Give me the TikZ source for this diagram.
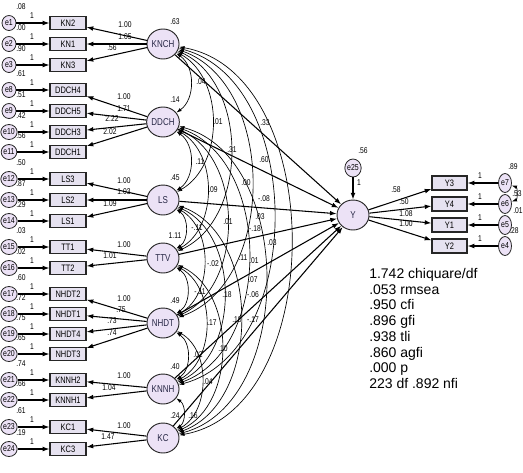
\documentclass[tikz,border=0pt]{standalone}
\usepackage{fontspec}
\setmainfont{Liberation Sans}
\newfontfamily\narrowsf[FakeStretch=0.8]{Liberation Sans}
\usetikzlibrary{arrows.meta,shapes.geometric}
\definecolor{boxfill}{RGB}{230,226,240}
\definecolor{latfill}{RGB}{236,226,246}
\definecolor{latink}{RGB}{40,40,70}

\begin{document}
\begin{tikzpicture}[x=0.75pt,y=-0.75pt,
obs/.style={draw=black!85,line width=0.9pt,fill=boxfill,minimum width=27pt,minimum height=9.75pt,inner sep=0pt,font=\narrowsf\fontsize{7}{8}\selectfont},
lat/.style={ellipse,draw=black!85,line width=0.7pt,fill=latfill,minimum width=24pt,minimum height=22.5pt,inner sep=0pt,font=\narrowsf\fontsize{7.5}{8}\selectfont,text=latink},
err/.style={ellipse,draw=black!85,line width=0.6pt,fill=latfill,minimum width=10.5pt,minimum height=11.25pt,inner sep=0pt,font=\narrowsf\fontsize{6.5}{7}\selectfont},
arr/.style={-{Latex[length=5pt,width=3.6pt]},line width=0.8pt},
cov/.style={{Latex[length=4pt,width=2.6pt]}-{Latex[length=4pt,width=2.6pt]},line width=0.5pt},
lbl/.style={inner sep=0pt,font=\narrowsf\fontsize{6.3}{7}\selectfont}
]
\useasboundingbox (0,0) rectangle (523,472);

% latent factors
\foreach \lv/\y/\v in {KNCH/44/.63,DDCH/122/.14,LS/200/.45,TTV/258/1.11,NHDT/323/.49,KNNH/389/.40,KC/438/.24}{
  \node[lat] (\lv) at (163,\y) {\lv};
  \node[lbl] (v\lv) at (175,\y-22) {\v};
}

% indicators with their errors
\foreach \b/\y/\e/\v in {KN2/23/e1/.08,KN1/44/e2/.00,KN3/65/e3/.90,DDCH4/90/e8/.61,DDCH5/111/e9/.51,DDCH3/132/e10/.42,DDCH1/152/e11/.56,LS3/179/e12/.50,LS2/200/e13/.87,LS1/221/e14/.29,TT1/247/e15/.03,TT2/268/e16/.02,NHDT2/294/e17/.60,NHDT1/314/e18/.72,NHDT4/334/e19/.75,NHDT3/354/e20/.65,KNNH2/380/e21/.74,KNNH1/400/e22/.66,KC1/427/e23/.61,KC3/449/e24/.19}{
  \node[obs] (\b) at (68,\y) {\b};
  \node[err] (\e) at (9,\y) {\e};
  \draw[arr] (\e) -- (\b);
  \node[lbl] (w\e) at (32,\y-7) {1};
  \node[lbl] (v\e) at (21,\y-16) {\v};
}

% loadings
\foreach \lv/\b/\lx/\ly/\t in {KNCH/KN2/125/25/1.00,KNCH/KN1/125/37/1.05,KNCH/KN3/112/48/.56,
  DDCH/DDCH4/124/97/1.00,DDCH/DDCH5/124/109/1.71,DDCH/DDCH3/112/119/2.22,DDCH/DDCH1/110/132/2.02,
  LS/LS3/124/181/1.00,LS/LS2/124/192/1.03,LS/LS1/110/204/1.09,
  TTV/TT1/124/245/1.00,TTV/TT2/110/256/1.01,
  NHDT/NHDT2/124/299/1.00,NHDT/NHDT1/121/310/.75,NHDT/NHDT4/112/321/.73,NHDT/NHDT3/112/333/.74,
  KNNH/KNNH2/124/376/1.00,KNNH/KNNH1/109/388/1.04,
  KC/KC1/124/426/1.00,KC/KC3/108/437/1.47}{
  \draw[arr] (\lv) -- (\b);
  \node[lbl] at (\lx,\ly) {\t};
}

% outcome
\node[lat] (Y) at (353,215) {Y};
\node[err,minimum height=13.5pt] (e25) at (353,168) {e25};
\draw[arr] (e25) -- (Y);
\node[lbl] (we25) at (359,183) {1};
\node[lbl] (ve25) at (363,151) {.56};

\foreach \b/\y/\e/\v/\vx/\vy/\t/\tx/\ty in {Y3/183/e7/.89/513/167/.58/396/190,Y4/204/e6/.53/517/194/.50/404/202,Y1/225/e5/.01/518/211/1.08/406/214,Y2/246/e4/.28/514/231/1.00/406/224}{
  \node[obs,minimum width=26.25pt,minimum height=10.5pt] (\b) at (449.5,\y) {\b};
  \node[err,minimum width=9.75pt,minimum height=14.25pt] (\e) at (505,\y) {\e};
  \draw[arr] (\e) -- (\b);
  \draw[arr] (Y) -- (\b);
  \node[lbl] (w\e) at (480,\y-7) {1};
  \node[lbl] (v\e) at (\vx,\vy) {\v};
  \node[lbl] at (\tx,\ty) {\t};
}
\draw[cov] (e7) to[bend left=70] (e6);

% structural paths
\foreach \lv in {KNCH,DDCH,LS,TTV,NHDT,KNNH,KC}{
  \draw[arr] (\lv) -- (Y);
}

% covariances
\foreach \a [count=\i] in {KNCH,DDCH,LS,TTV,NHDT,KNNH,KC}{
  \foreach \b [count=\j] in {KNCH,DDCH,LS,TTV,NHDT,KNNH,KC}{
    \ifnum\j>\i
      \pgfmathtruncatemacro\bnd{50+5*(\j-\i)}
      \draw[cov] (\a) to[bend left=\bnd] (\b);
    \fi
  }
}

% estimates on paths and covariances
\foreach \lx/\ly/\t in {201/82/.04,218/122/.01,265/123/.33,232/150/.31,264/160/.60,200/162/.11,
  213/190/.09,246/183/.00,264/199/-.08,260/217/.03,228/222/.01,197/228/-.11,255/229/-.18,272/243/.03,
  213/264/-.02,243/258/.11,254/261/.01,253/280/.07,253/295/-.06,227/295/.18,200/292/-.11,
  212/323/.17,237/320/.10,253/320/-.17,223/349/.10,198/355/.02,208/382/.04,193/416/.16}{
  \node[lbl] at (\lx,\ly) {\t};
}

% fit indices
\node[anchor=north west,inner sep=0pt,align=left,font=\fontsize{10.5}{11.8}\selectfont] (fit) at (369,268)
  {1.742 chiquare/df\\.053 rmsea\\.950 cfi\\.896 gfi\\.938 tli\\.860 agfi\\.000 p\\223 df .892 nfi};
\end{tikzpicture}
\end{document}
